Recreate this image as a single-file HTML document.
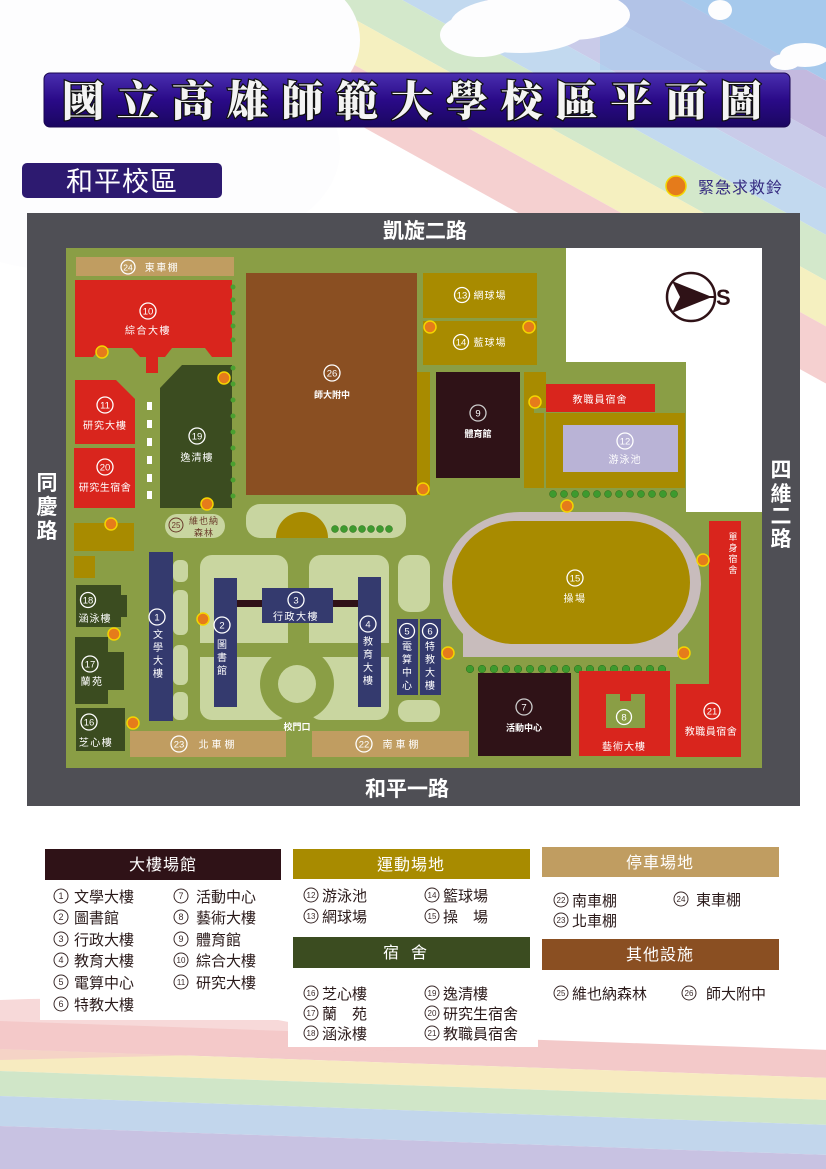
<!DOCTYPE html>
<html><head><meta charset="utf-8">
<style>
html,body{margin:0;padding:0;background:#fff;}
svg{display:block;}
text{font-family:"Liberation Sans","Noto Sans CJK TC",sans-serif;}
.w{fill:#fff;font-size:10px;letter-spacing:1.5px;text-anchor:middle;}
.n{fill:#fff;font-size:9.5px;text-anchor:middle;}
.c{fill:none;stroke:#fff;stroke-width:1.3;}
.lg{fill:#2a1a1a;font-size:15px;}
.lc{fill:none;stroke:#3a2a2a;stroke-width:1;}
.ln{fill:#3a2a2a;font-size:9px;text-anchor:middle;}
.hd{fill:#fff;font-size:16px;text-anchor:middle;letter-spacing:1px;}
.dot{fill:#e57b1b;stroke:#f4d400;stroke-width:1.5;}
</style></head>
<body>
<svg width="826" height="1169" viewBox="0 0 826 1169" xmlns="http://www.w3.org/2000/svg">
<defs>
<linearGradient id="tb" x1="0" y1="0" x2="0" y2="1">
<stop offset="0" stop-color="#4a2fb0"/><stop offset="0.5" stop-color="#2a0a88"/><stop offset="1" stop-color="#1a0660"/>
</linearGradient>
</defs>
<g transform="translate(330,0) rotate(29)">
<rect x="-300" y="-500" width="1500" height="300" fill="#8f9fd2"/>
<rect x="-300" y="-260" width="1500" height="90" fill="#a6c9ec"/>
<rect x="-300" y="-170" width="1500" height="50" fill="#c3b9df"/>
<rect x="-300" y="-120" width="1500" height="45" fill="#c9cbe9"/>
<rect x="-300" y="-75" width="1500" height="40" fill="#c2d9ef"/>
<rect x="-300" y="-35" width="1500" height="40" fill="#d3e8cb"/>
<rect x="-300" y="5" width="1500" height="40" fill="#f5f0c0"/>
<rect x="-300" y="45" width="1500" height="50" fill="#f5d0d0"/>
</g>
<rect x="600" y="0" width="226" height="70" fill="#a6c9ec" opacity="0.6"/>
<g fill="#fdfdfe">
<ellipse cx="150" cy="80" rx="190" ry="150"/>
<ellipse cx="220" cy="150" rx="120" ry="90"/>
<ellipse cx="60" cy="210" rx="120" ry="60"/>
<ellipse cx="300" cy="40" rx="60" ry="60"/>
<ellipse cx="520" cy="25" rx="70" ry="28"/>
<ellipse cx="570" cy="15" rx="60" ry="25"/>
<ellipse cx="480" cy="35" rx="40" ry="22"/>
<ellipse cx="720" cy="10" rx="12" ry="10"/>
<ellipse cx="805" cy="55" rx="25" ry="12"/>
<ellipse cx="785" cy="62" rx="15" ry="8"/>
</g>
<g transform="rotate(2 400 1100)">
<rect x="-50" y="1035" width="950" height="28" fill="#f3c9c9"/>
<rect x="-50" y="1063" width="950" height="22" fill="#f7ebc0"/>
<rect x="-50" y="1085" width="950" height="25" fill="#d0e6c8"/>
<rect x="-50" y="1110" width="950" height="30" fill="#c2d6ec"/>
<rect x="-50" y="1140" width="950" height="50" fill="#c8c2e2"/>
</g>
<path d="M0 1000 Q200 990 400 1050 L0 1060Z" fill="#f3c9c9" opacity="0.7"/>

<rect x="44" y="73" width="746" height="54" rx="6" fill="url(#tb)" stroke="#1a0650" stroke-width="1"/>
<text x="62" y="116" textLength="700" lengthAdjust="spacing" style="font-family:'Noto Serif CJK SC','Noto Sans CJK TC',serif;font-size:42px;font-weight:900;fill:#f4f4f4;stroke:#111;stroke-width:2.5px;paint-order:stroke;">國立高雄師範大學校區平面圖</text>

<rect x="22" y="163" width="200" height="35" rx="5" fill="#2d1a70"/>
<text x="122" y="191" text-anchor="middle" style="font-size:27px;fill:#fff;letter-spacing:1px;">和平校區</text>

<ellipse cx="676" cy="186" rx="10" ry="10" class="dot"/>
<text x="698" y="193" style="font-size:16px;fill:#352a80;letter-spacing:1px;">緊急求救鈴</text>

<rect x="27" y="213" width="773" height="593" fill="#4f4f55"/>
<rect x="66" y="248" width="696" height="520" fill="#8a9e45"/>
<path d="M566 248 H762 V512 H686 V362 H566Z" fill="#fff"/>

<text x="425" y="238" text-anchor="middle" style="font-size:21px;fill:#fff;font-weight:bold;">凱旋二路</text>
<text x="407" y="796" text-anchor="middle" style="font-size:21px;fill:#fff;font-weight:bold;">和平一路</text>
<text style="font-size:21px;fill:#fff;font-weight:bold;" text-anchor="middle"><tspan x="47" y="490">同</tspan><tspan x="47" y="514">慶</tspan><tspan x="47" y="538">路</tspan></text>
<text style="font-size:21px;fill:#fff;font-weight:bold;" text-anchor="middle"><tspan x="781" y="477">四</tspan><tspan x="781" y="501">維</tspan><tspan x="781" y="523">二</tspan><tspan x="781" y="546">路</tspan></text>

<circle cx="691" cy="297" r="24" fill="none" stroke="#2f1217" stroke-width="2.5"/>
<path d="M672 281 L712 297 L672 313 L680 297Z" fill="#2f1217"/>
<line x1="680" y1="297" x2="715" y2="297" stroke="#2f1217" stroke-width="2"/>
<text x="716" y="305" style="font-size:22px;font-weight:bold;fill:#2f1217;">S</text>

<rect x="76" y="257" width="158" height="19" fill="#c09d61"/>
<circle cx="128" cy="267" r="7" class="c"/><text x="128" y="270.5" class="n" style="font-size:8.5px">24</text>
<text x="162" y="271" class="w">東車棚</text>

<path d="M75 280 H232 V357 H212 L205 348 H172 L165 357 H158 V373 H146 V357 H140 L132 348 H100 L93 357 H75Z" fill="#d9251d"/>
<circle cx="148" cy="311" r="8" class="c"/><text x="148" y="314.5" class="n">10</text>
<text x="148" y="334" class="w">綜合大樓</text>
<path d="M75 380 H116 L135 399 V444 H75Z" fill="#d9251d"/>
<circle cx="105" cy="405" r="8" class="c"/><text x="105" y="408.5" class="n">11</text>
<text x="105" y="429" class="w" style="letter-spacing:1px">研究大樓</text>
<rect x="74" y="448" width="61" height="60" fill="#d9251d"/>
<circle cx="105" cy="467" r="8" class="c"/><text x="105" y="470.5" class="n">20</text>
<text x="105" y="491" class="w" style="letter-spacing:0.5px">研究生宿舍</text>
<g fill="#fff"><rect x="147" y="402" width="5" height="8"/><rect x="147" y="420" width="5" height="8"/><rect x="147" y="438" width="5" height="8"/><rect x="147" y="456" width="5" height="8"/><rect x="147" y="474" width="5" height="8"/><rect x="147" y="491" width="5" height="8"/></g>
<path d="M160 388 L182 365 H232 V508 H160Z" fill="#3b4c20"/>
<circle cx="197" cy="436" r="8" class="c"/><text x="197" y="439.5" class="n">19</text>
<text x="197" y="461" class="w" style="letter-spacing:1px">逸清樓</text>
<g fill="#4aa030"><circle cx="233" cy="287" r="2.5"/><circle cx="233" cy="300" r="2.5"/><circle cx="233" cy="313" r="2.5"/><circle cx="233" cy="326" r="2.5"/><circle cx="233" cy="340" r="2.5"/><circle cx="233" cy="368" r="2.5"/><circle cx="233" cy="384" r="2.5"/><circle cx="233" cy="400" r="2.5"/><circle cx="233" cy="416" r="2.5"/><circle cx="233" cy="432" r="2.5"/><circle cx="233" cy="448" r="2.5"/><circle cx="233" cy="464" r="2.5"/><circle cx="233" cy="480" r="2.5"/><circle cx="233" cy="496" r="2.5"/></g>

<rect x="246" y="273" width="171" height="222" fill="#8a4f22"/>
<circle cx="332" cy="373" r="8" class="c"/><text x="332" y="376.5" class="n">26</text>
<text x="332" y="398" class="w" style="font-weight:bold;letter-spacing:0;font-size:9px">師大附中</text>
<rect x="417" y="372" width="13" height="123" fill="#a88b00"/>

<rect x="423" y="273" width="114" height="45" fill="#a88b00"/>
<circle cx="462" cy="295" r="7.5" class="c"/><text x="462" y="298.5" class="n">13</text>
<text x="490" y="299" class="w" style="letter-spacing:1px">網球場</text>
<rect x="423" y="321" width="114" height="44" fill="#a88b00"/>
<circle cx="461" cy="342" r="7.5" class="c"/><text x="461" y="345.5" class="n">14</text>
<text x="490" y="346" class="w" style="letter-spacing:1px">藍球場</text>

<rect x="436" y="372" width="84" height="106" fill="#2f1217"/>
<circle cx="478" cy="413" r="8" fill="none" stroke="#ccc" stroke-width="1.3"/><text x="478" y="416.5" class="n">9</text>
<text x="478" y="437" class="w" style="font-weight:bold;letter-spacing:0;font-size:9px">體育館</text>
<rect x="524" y="372" width="10" height="116" fill="#a88b00"/>
<rect x="524" y="372" width="22" height="36" fill="#a88b00"/>
<rect x="524" y="413" width="20" height="75" fill="#a88b00"/>
<rect x="546" y="384" width="109" height="28" fill="#d9251d"/>
<text x="600" y="403" class="w" style="letter-spacing:1px">教職員宿舍</text>
<rect x="546" y="413" width="139" height="75" fill="#a88b00"/>
<rect x="563" y="425" width="115" height="47" fill="#b9b3d6"/>
<circle cx="625" cy="441" r="8" class="c"/><text x="625" y="444.5" class="n">12</text>
<text x="625" y="463" class="w" style="letter-spacing:1px">游泳池</text>
<g fill="#3e9a2e" stroke="#2a6a1a" stroke-width="0.5">
<circle cx="553" cy="494" r="3.5"/><circle cx="564" cy="494" r="3.5"/><circle cx="575" cy="494" r="3.5"/><circle cx="586" cy="494" r="3.5"/><circle cx="597" cy="494" r="3.5"/><circle cx="608" cy="494" r="3.5"/><circle cx="619" cy="494" r="3.5"/><circle cx="630" cy="494" r="3.5"/><circle cx="641" cy="494" r="3.5"/><circle cx="652" cy="494" r="3.5"/><circle cx="663" cy="494" r="3.5"/><circle cx="674" cy="494" r="3.5"/>
</g>

<rect x="246" y="504" width="160" height="34" rx="14" fill="#c8d5a0"/>
<path d="M276 538 A26 26 0 0 1 328 538Z" fill="#a88b00"/>
<g fill="#3e9a2e" stroke="#2a6a1a" stroke-width="0.5">
<circle cx="335" cy="529" r="3.5"/><circle cx="344" cy="529" r="3.5"/><circle cx="353" cy="529" r="3.5"/><circle cx="362" cy="529" r="3.5"/><circle cx="371" cy="529" r="3.5"/><circle cx="380" cy="529" r="3.5"/><circle cx="389" cy="529" r="3.5"/></g>
<rect x="165" y="514" width="60" height="24" rx="12" fill="#c8d5a0"/>
<circle cx="176" cy="525" r="7" fill="none" stroke="#6a3a2a" stroke-width="1"/><text x="176" y="528" class="n" style="fill:#6a3a2a;font-size:8px">25</text>
<text x="204" y="524" class="w" style="fill:#6a3a2a;font-size:9px;letter-spacing:1px">維也納</text>
<text x="204" y="536" class="w" style="fill:#6a3a2a;font-size:9px;letter-spacing:1px">森林</text>

<rect x="74" y="523" width="60" height="28" fill="#a88b00"/>
<rect x="74" y="556" width="21" height="22" fill="#a88b00"/>
<path d="M76 585 H121 V595 H127 V617 H121 V627 H76Z" fill="#3b4c20"/>
<circle cx="88" cy="600" r="7.5" class="c"/><text x="88" y="603.5" class="n">18</text>
<text x="95" y="622" class="w" style="letter-spacing:1px">涵泳樓</text>
<path d="M75 637 H108 V652 H124 V690 H108 V704 H75Z" fill="#3b4c20"/>
<circle cx="90" cy="664" r="8" class="c"/><text x="90" y="667.5" class="n">17</text>
<text x="92" y="685" class="w">蘭苑</text>
<rect x="76" y="708" width="49" height="43" fill="#3b4c20"/>
<circle cx="89" cy="722" r="8" class="c"/><text x="89" y="725.5" class="n">16</text>
<text x="96" y="746" class="w">芝心樓</text>

<g fill="#c9d6a0">
<rect x="173" y="560" width="15" height="22" rx="6"/>
<rect x="173" y="590" width="15" height="45" rx="6"/>
<rect x="173" y="645" width="15" height="40" rx="6"/>
<rect x="173" y="692" width="15" height="28" rx="6"/>
<rect x="200" y="555" width="88" height="165" rx="12"/>
<rect x="309" y="555" width="80" height="165" rx="12"/>
<rect x="398" y="555" width="32" height="57" rx="12"/>
<rect x="398" y="700" width="42" height="22" rx="10"/>
</g>
<path d="M200 650 H390 M297 590 V720" stroke="#8a9e45" stroke-width="14"/>
<circle cx="297" cy="684" r="37" fill="#8a9e45"/>
<circle cx="297" cy="684" r="19" fill="#c9d6a0"/>

<rect x="149" y="552" width="24" height="169" fill="#343a6e"/>
<circle cx="157" cy="617" r="8" class="c"/><text x="157" y="620.5" class="n">1</text>
<text class="w" style="letter-spacing:0"><tspan x="158" y="638">文</tspan><tspan x="158" y="651">學</tspan><tspan x="158" y="664">大</tspan><tspan x="158" y="677">樓</tspan></text>
<rect x="214" y="578" width="23" height="129" fill="#343a6e"/>
<circle cx="222" cy="625" r="8" class="c"/><text x="222" y="628.5" class="n">2</text>
<text class="w" style="letter-spacing:0"><tspan x="222" y="648">圖</tspan><tspan x="222" y="661">書</tspan><tspan x="222" y="674">館</tspan></text>
<rect x="237" y="600" width="121" height="7" fill="#2f1217"/>
<rect x="262" y="588" width="71" height="35" fill="#343a6e"/>
<circle cx="296" cy="600" r="8" class="c"/><text x="296" y="603.5" class="n">3</text>
<text x="296" y="620" class="w">行政大樓</text>
<rect x="358" y="577" width="23" height="130" fill="#343a6e"/>
<circle cx="368" cy="624" r="8" class="c"/><text x="368" y="627.5" class="n">4</text>
<text class="w" style="letter-spacing:0"><tspan x="368" y="645">教</tspan><tspan x="368" y="658">育</tspan><tspan x="368" y="671">大</tspan><tspan x="368" y="684">樓</tspan></text>
<rect x="397" y="619" width="21" height="76" fill="#343a6e"/>
<rect x="420" y="619" width="21" height="76" fill="#343a6e"/>
<circle cx="407" cy="631" r="7.5" class="c"/><text x="407" y="634.5" class="n">5</text>
<circle cx="430" cy="631" r="7.5" class="c"/><text x="430" y="634.5" class="n">6</text>
<text class="w" style="letter-spacing:0"><tspan x="407" y="650">電</tspan><tspan x="407" y="663">算</tspan><tspan x="407" y="676">中</tspan><tspan x="407" y="689">心</tspan></text>
<text class="w" style="letter-spacing:0"><tspan x="430" y="650">特</tspan><tspan x="430" y="663">教</tspan><tspan x="430" y="676">大</tspan><tspan x="430" y="689">樓</tspan></text>

<text x="297" y="730" class="w" style="font-size:9px;font-weight:bold;letter-spacing:0">校門口</text>
<rect x="130" y="731" width="156" height="26" fill="#c09d61"/>
<circle cx="179" cy="744" r="8" class="c"/><text x="179" y="747.5" class="n">23</text>
<text x="218" y="748" class="w" style="letter-spacing:3px">北車棚</text>
<rect x="312" y="731" width="157" height="26" fill="#c09d61"/>
<circle cx="364" cy="744" r="8" class="c"/><text x="364" y="747.5" class="n">22</text>
<text x="402" y="748" class="w" style="letter-spacing:3px">南車棚</text>

<path d="M520 512 H624 A77 72 0 0 1 701 584 A77 72 0 0 1 678 634 V657 H463 V634 A77 72 0 0 1 443 584 A77 72 0 0 1 520 512Z" fill="#c8bcbc"/>
<rect x="452" y="521" width="238" height="123" rx="62" fill="#a88b00"/>
<circle cx="575" cy="578" r="8" class="c"/><text x="575" y="581.5" class="n">15</text>
<text x="575" y="602" class="w">操場</text>
<g fill="#3e9a2e" stroke="#2a6a1a" stroke-width="0.5">
<circle cx="470" cy="669" r="3.8"/><circle cx="482" cy="669" r="3.8"/><circle cx="494" cy="669" r="3.8"/><circle cx="506" cy="669" r="3.8"/><circle cx="518" cy="669" r="3.8"/><circle cx="530" cy="669" r="3.8"/><circle cx="542" cy="669" r="3.8"/><circle cx="554" cy="669" r="3.8"/><circle cx="566" cy="669" r="3.8"/><circle cx="578" cy="669" r="3.8"/><circle cx="590" cy="669" r="3.8"/><circle cx="602" cy="669" r="3.8"/><circle cx="614" cy="669" r="3.8"/><circle cx="626" cy="669" r="3.8"/><circle cx="638" cy="669" r="3.8"/><circle cx="650" cy="669" r="3.8"/><circle cx="662" cy="669" r="3.8"/></g>
<rect x="478" y="673" width="93" height="83" fill="#2f1217"/>
<circle cx="524" cy="707" r="8" fill="none" stroke="#ccc" stroke-width="1.3"/><text x="524" y="710.5" class="n">7</text>
<text x="524" y="731" class="w" style="font-weight:bold;letter-spacing:0;font-size:9px">活動中心</text>
<rect x="579" y="671" width="91" height="85" fill="#d9251d"/>
<path d="M606 694 H620 V701 H631 V694 H645 V728 H606Z" fill="#8a9e45"/>
<circle cx="624" cy="717" r="7.5" class="c"/><text x="624" y="720.5" class="n">8</text>
<text x="624" y="750" class="w" style="letter-spacing:1px">藝術大樓</text>
<path d="M709 521 H741 V757 H676 V684 H709Z" fill="#d9251d"/>
<circle cx="712" cy="711" r="8" class="c"/><text x="712" y="714.5" class="n">21</text>
<text x="711" y="735" class="w" style="letter-spacing:0.5px">教職員宿舍</text>
<text class="w" style="font-size:9px;letter-spacing:0"><tspan x="733" y="540">單</tspan><tspan x="733" y="551">身</tspan><tspan x="733" y="562">宿</tspan><tspan x="733" y="573">舍</tspan></text>

<g>
<circle cx="102" cy="352" r="6" class="dot"/><circle cx="224" cy="378" r="6" class="dot"/><circle cx="207" cy="504" r="6" class="dot"/>
<circle cx="111" cy="524" r="6" class="dot"/><circle cx="203" cy="619" r="6" class="dot"/><circle cx="114" cy="634" r="6" class="dot"/>
<circle cx="133" cy="723" r="6" class="dot"/><circle cx="423" cy="489" r="6" class="dot"/><circle cx="430" cy="327" r="6" class="dot"/>
<circle cx="529" cy="327" r="6" class="dot"/><circle cx="535" cy="402" r="6" class="dot"/><circle cx="567" cy="506" r="6" class="dot"/>
<circle cx="448" cy="653" r="6" class="dot"/><circle cx="684" cy="653" r="6" class="dot"/><circle cx="703" cy="560" r="6" class="dot"/>
</g>

<rect x="40" y="845" width="250" height="175" fill="#fff"/>
<rect x="288" y="845" width="250" height="202" fill="#fff"/>
<rect x="45" y="849" width="236" height="31" fill="#2f1217"/>
<text x="163" y="870" class="hd">大樓場館</text>
<rect x="293" y="849" width="237" height="30" fill="#a88b00"/>
<text x="411" y="870" class="hd">運動場地</text>
<rect x="542" y="847" width="237" height="30" fill="#c09d61"/>
<text x="660" y="868" class="hd">停車場地</text>
<rect x="293" y="937" width="237" height="31" fill="#3b4c20"/>
<text x="411" y="958" class="hd" style="letter-spacing:12px">宿舍</text>
<rect x="542" y="939" width="237" height="31" fill="#8a4f22"/>
<text x="660" y="960" class="hd">其他設施</text>

<g>
<circle cx="61" cy="896" r="7" class="lc"/><text x="61" y="899" class="ln">1</text><text x="74" y="902" class="lg">文學大樓</text>
<circle cx="61" cy="917" r="7" class="lc"/><text x="61" y="920" class="ln">2</text><text x="74" y="923" class="lg">圖書館</text>
<circle cx="61" cy="939" r="7" class="lc"/><text x="61" y="942" class="ln">3</text><text x="74" y="945" class="lg">行政大樓</text>
<circle cx="61" cy="960" r="7" class="lc"/><text x="61" y="963" class="ln">4</text><text x="74" y="966" class="lg">教育大樓</text>
<circle cx="61" cy="982" r="7" class="lc"/><text x="61" y="985" class="ln">5</text><text x="74" y="988" class="lg">電算中心</text>
<circle cx="61" cy="1004" r="7" class="lc"/><text x="61" y="1007" class="ln">6</text><text x="74" y="1010" class="lg">特教大樓</text>
<circle cx="181" cy="896" r="7" class="lc"/><text x="181" y="899" class="ln">7</text><text x="196" y="902" class="lg">活動中心</text>
<circle cx="181" cy="917" r="7" class="lc"/><text x="181" y="920" class="ln">8</text><text x="196" y="923" class="lg">藝術大樓</text>
<circle cx="181" cy="939" r="7" class="lc"/><text x="181" y="942" class="ln">9</text><text x="196" y="945" class="lg">體育館</text>
<circle cx="181" cy="960" r="7" class="lc"/><text x="181" y="963" class="ln" style="font-size:8px">10</text><text x="196" y="966" class="lg">綜合大樓</text>
<circle cx="181" cy="982" r="7" class="lc"/><text x="181" y="985" class="ln" style="font-size:8px">11</text><text x="196" y="988" class="lg">研究大樓</text>

<circle cx="311" cy="895" r="7" class="lc"/><text x="311" y="898" class="ln" style="font-size:8px">12</text><text x="322" y="901" class="lg">游泳池</text>
<circle cx="311" cy="916" r="7" class="lc"/><text x="311" y="919" class="ln" style="font-size:8px">13</text><text x="322" y="922" class="lg">網球場</text>
<circle cx="432" cy="895" r="7" class="lc"/><text x="432" y="898" class="ln" style="font-size:8px">14</text><text x="443" y="901" class="lg">籃球場</text>
<circle cx="432" cy="916" r="7" class="lc"/><text x="432" y="919" class="ln" style="font-size:8px">15</text><text x="443" y="922" class="lg">操　場</text>

<circle cx="311" cy="993" r="7" class="lc"/><text x="311" y="996" class="ln" style="font-size:8px">16</text><text x="322" y="999" class="lg">芝心樓</text>
<circle cx="311" cy="1013" r="7" class="lc"/><text x="311" y="1016" class="ln" style="font-size:8px">17</text><text x="322" y="1019" class="lg">蘭　苑</text>
<circle cx="311" cy="1033" r="7" class="lc"/><text x="311" y="1036" class="ln" style="font-size:8px">18</text><text x="322" y="1039" class="lg">涵泳樓</text>
<circle cx="432" cy="993" r="7" class="lc"/><text x="432" y="996" class="ln" style="font-size:8px">19</text><text x="443" y="999" class="lg">逸清樓</text>
<circle cx="432" cy="1013" r="7" class="lc"/><text x="432" y="1016" class="ln" style="font-size:8px">20</text><text x="443" y="1019" class="lg">研究生宿舍</text>
<circle cx="432" cy="1033" r="7" class="lc"/><text x="432" y="1036" class="ln" style="font-size:8px">21</text><text x="443" y="1039" class="lg">教職員宿舍</text>

<circle cx="561" cy="900" r="7" class="lc"/><text x="561" y="903" class="ln" style="font-size:8px">22</text><text x="572" y="906" class="lg">南車棚</text>
<circle cx="561" cy="920" r="7" class="lc"/><text x="561" y="923" class="ln" style="font-size:8px">23</text><text x="572" y="926" class="lg">北車棚</text>
<circle cx="681" cy="899" r="7" class="lc"/><text x="681" y="902" class="ln" style="font-size:8px">24</text><text x="696" y="905" class="lg">東車棚</text>

<circle cx="561" cy="993" r="7" class="lc"/><text x="561" y="996" class="ln" style="font-size:8px">25</text><text x="572" y="999" class="lg">維也納森林</text>
<circle cx="689" cy="993" r="7" class="lc"/><text x="689" y="996" class="ln" style="font-size:8px">26</text><text x="706" y="999" class="lg">師大附中</text>
</g>
</svg>
</body></html>
